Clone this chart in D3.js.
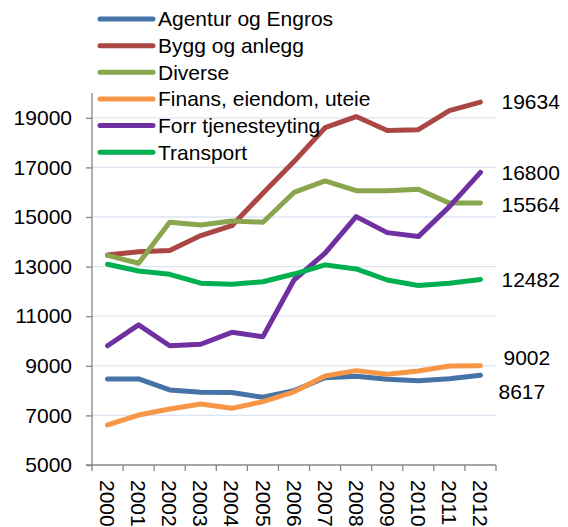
<!DOCTYPE html>
<html>
<head>
<meta charset="utf-8">
<script src="https://cdn.jsdelivr.net/npm/d3@7/dist/d3.min.js"></script>
<style>
  html, body { margin: 0; padding: 0; background: #fff; }
  svg { display: block; font-family: "Liberation Sans", Arial, sans-serif; }
</style>
</head>
<body>
<svg id="chart" width="568" height="527"></svg>
<script>
const years = ["2000","2001","2002","2003","2004","2005","2006","2007","2008","2009","2010","2011","2012"];
const seriesNames = ["Agentur og Engros","Bygg og anlegg","Diverse","Finans, eiendom, uteie","Forr tjenesteyting","Transport"];
const seriesColors = ["#4572A7","#AA4643","#89A54E","#F79646","#7030A0","#00B050"];
const agentur = [8470, 8470, 8025, 7930, 7920, 7730, 8000, 8520, 8575, 8455, 8400, 8480, 8617];
const bygg    = [13470, 13600, 13645, 14250, 14650, 15960, 17235, 18600, 19050, 18490, 18520, 19290, 19634];
const diverse = [13450, 13135, 14790, 14680, 14840, 14790, 15990, 16455, 16060, 16060, 16120, 15560, 15564];
const finans  = [6615, 7015, 7260, 7460, 7285, 7555, 7950, 8590, 8805, 8660, 8790, 8995, 9002];
const forr    = [9810, 10650, 9810, 9870, 10350, 10175, 12460, 13540, 15015, 14370, 14210, 15420, 16800];
const transport = [13095, 12825, 12690, 12330, 12290, 12390, 12700, 13070, 12905, 12460, 12235, 12330, 12482];
const seriesValues = [agentur, bygg, diverse, finans, forr, transport];
const yTicks = [5000, 7000, 9000, 11000, 13000, 15000, 17000, 19000];
const endLabels = ["8617", "19634", "15564", "9002", "16800", "12482"];

const svg = d3.select("#chart");
const mLeft = 92, mRight = 496, mTop = 93, mBottom = 465;
const FONT = 21;

const x = d3.scaleBand().domain(years).range([mLeft, mRight]).padding(0);
const y = d3.scaleLinear().domain([5000, 20000]).range([mBottom, mTop]);

// gridlines
svg.append("g").selectAll("line").data(yTicks.filter(d => d !== 5000)).join("line")
  .attr("x1", mLeft).attr("x2", mRight)
  .attr("y1", d => y(d)).attr("y2", d => y(d))
  .attr("stroke", "#DCE6F2").attr("stroke-width", 1.3);

// y axis
const yAxis = svg.append("g").attr("transform", `translate(${mLeft},0)`)
  .call(d3.axisLeft(y).tickValues(yTicks).tickSize(6).tickPadding(14).tickFormat(d3.format("d")));
yAxis.select(".domain").attr("stroke", "#868686").attr("stroke-width", 1.3).attr("d", `M-6,${mBottom}H0V${mTop}`);
yAxis.selectAll(".tick line").attr("stroke", "#868686").attr("stroke-width", 1.3);
yAxis.selectAll(".tick text").attr("font-size", FONT).attr("fill", "#000").attr("font-family", "Liberation Sans, Arial, sans-serif");

// x axis
const xAxis = svg.append("g").attr("transform", `translate(0,${mBottom})`)
  .call(d3.axisBottom(x).tickSize(0).tickFormat(d => d));
xAxis.select(".domain").attr("stroke", "#868686").attr("stroke-width", 1.3).attr("d", `M${mLeft},0H${mRight}`);
const bounds = years.map(d => x(d)).concat([x(years[years.length-1]) + x.bandwidth()]);
xAxis.append("g").selectAll("line").data(bounds).join("line")
  .attr("x1", d => d).attr("x2", d => d).attr("y1", 0).attr("y2", 6)
  .attr("stroke", "#868686").attr("stroke-width", 1.3);
xAxis.selectAll(".tick text")
  .attr("font-size", FONT).attr("fill", "#000").attr("font-family", "Liberation Sans, Arial, sans-serif")
  .attr("text-anchor", "start")
  .attr("transform", "rotate(90)")
  .attr("x", 15).attr("y", 0).attr("dy", "0.35em");

// lines
const line = d3.line().x((d, i) => x(years[i]) + x.bandwidth() / 2).y(d => y(d)).curve(d3.curveLinear);
svg.append("g").selectAll("path").data(seriesValues).join("path")
  .attr("d", d => line(d))
  .attr("fill", "none")
  .attr("stroke", (d, i) => seriesColors[i])
  .attr("stroke-width", 5)
  .attr("stroke-linejoin", "round")
  .attr("stroke-linecap", "round");

// end labels
const labelOffsets = [[18, 16], [21, 0], [21, 2], [23, -8], [21, 0], [21, 0]];
svg.append("g").selectAll("text").data(seriesValues).join("text")
  .attr("x", (d, i) => x(years[years.length-1]) + x.bandwidth()/2 + labelOffsets[i][0])
  .attr("y", (d, i) => y(d[d.length-1]) + labelOffsets[i][1])
  .attr("dy", "0.35em")
  .attr("font-size", FONT)
  .attr("fill", "#000")
  .text((d, i) => endLabels[i]);

// legend
const legend = svg.append("g");
const lg = legend.selectAll("g").data(seriesNames).join("g")
  .attr("transform", (d, i) => `translate(100,${19 + i * 26.65})`);
lg.append("line").attr("x1", 0).attr("x2", 53).attr("y1", 0).attr("y2", 0)
  .attr("stroke", (d, i) => seriesColors[i]).attr("stroke-width", 5).attr("stroke-linecap", "round");
lg.append("text").attr("x", 58).attr("y", 0).attr("dy", "0.35em")
  .attr("font-size", FONT).attr("fill", "#000").text(d => d);
</script>
</body>
</html>
